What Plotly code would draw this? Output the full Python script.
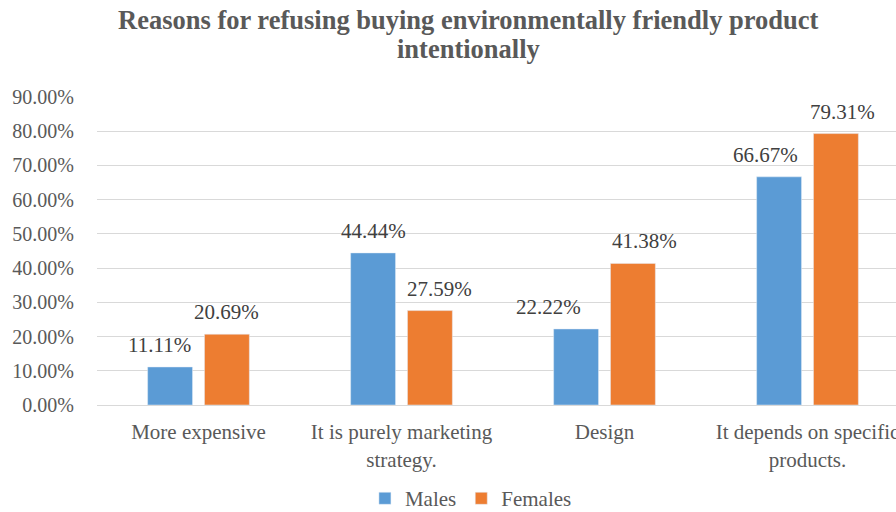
import plotly.graph_objects as go

categories = ["More expensive", "It is purely marketing<br>strategy.", "Design", "It depends on specific<br>products."]
males = [0.1111, 0.4444, 0.2222, 0.6667]
females = [0.2069, 0.2759, 0.4138, 0.7931]
tick_vals = [0, 0.1, 0.2, 0.3, 0.4, 0.5, 0.6, 0.7, 0.8, 0.9]
tick_text = ["0.00%", "10.00%", "20.00%", "30.00%", "40.00%", "50.00%", "60.00%", "70.00%", "80.00%", "90.00%"]
title_lines = ["Reasons for refusing buying environmentally friendly product", "intentionally"]

# horizontal nudges (px) of data labels, as in the original chart
males_label_shift = [-11, 0, -28, -14]
females_label_shift = [0, 10, 12, 7]

FONT = "Liberation Serif"
PLOT_H = 308  # plot area height in px

fig = go.Figure()
fig.add_trace(go.Bar(name="Males", x=categories, y=males, marker_color="#5B9BD5"))
fig.add_trace(go.Bar(name="Females", x=categories, y=females, marker_color="#ED7D31"))

# data labels above each bar
bar_offset = 0.14
for i, c in enumerate(categories):
    for vals, off, shifts in ((males, -bar_offset, males_label_shift), (females, bar_offset, females_label_shift)):
        fig.add_annotation(
            x=i + off, y=vals[i], xref="x", yref="y",
            text=f"{vals[i]*100:.2f}%", showarrow=False,
            yanchor="bottom", yshift=8, xshift=shifts[i],
            font=dict(family=FONT, size=21, color="#404040"),
        )

# title lines
for line, ypix in zip(title_lines, (20, 49)):
    fig.add_annotation(
        text=f"<b>{line}</b>", xref="paper", yref="paper",
        x=(468 - 97) / 799, y=1 + (97 - ypix) / PLOT_H,
        xanchor="center", yanchor="middle", showarrow=False,
        font=dict(family=FONT, size=26.5, color="#595959"),
    )

fig.update_layout(
    width=896, height=512,
    margin=dict(l=97, r=0, t=97, b=107, autoexpand=False),
    paper_bgcolor="white", plot_bgcolor="white",
    barmode="group", bargap=0.44, bargroupgap=0.21,
    font=dict(family=FONT, size=20, color="#595959"),
    showlegend=True,
    legend=dict(orientation="h", x=0.468, xanchor="center", y=-0.304, yanchor="middle",
                font=dict(family=FONT, size=21, color="#595959"),
                itemwidth=30, traceorder="normal"),
    xaxis=dict(
        type="category", range=[-0.5, -0.5 + 799 / 203], automargin=False,
        showline=True, linecolor="#d9d9d9", linewidth=1,
        ticks="", ticklabelstandoff=8,
        tickfont=dict(family=FONT, size=21, color="#595959"),
    ),
    yaxis=dict(
        range=[0, 0.9], tickvals=tick_vals, ticktext=tick_text, automargin=False,
        showgrid=True, gridcolor="#d9d9d9", gridwidth=1,
        zeroline=False, showline=False, ticks="",
        ticklabelstandoff=22,
        tickfont=dict(family=FONT, size=20, color="#595959"),
    ),
)

fig.write_html("out.html")
